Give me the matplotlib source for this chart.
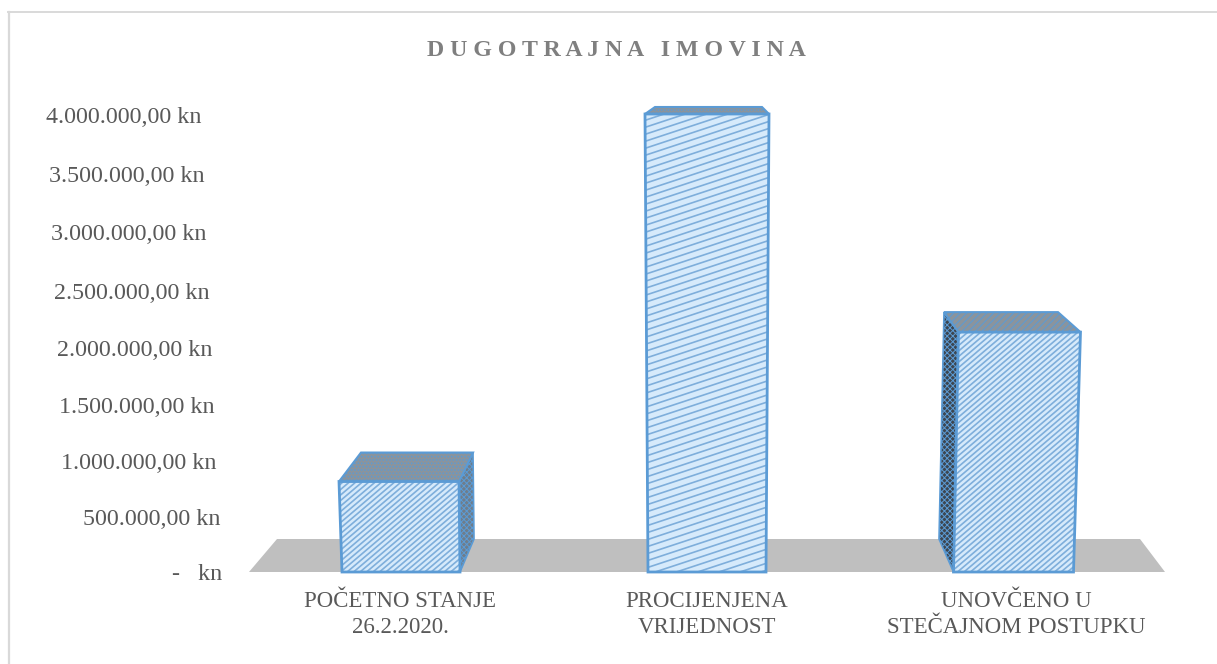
import matplotlib
matplotlib.use('Agg')
import matplotlib.pyplot as plt
from matplotlib.collections import LineCollection
from matplotlib.patches import Polygon
from matplotlib.transforms import Affine2D

W, H = 1217, 664

categories = ['POČETNO STANJE\n26.2.2020.', 'PROCIJENJENA\nVRIJEDNOST', 'UNOVČENO U\nSTEČAJNOM POSTUPKU']
values = [790000, 4000000, 2095000]
ytick_values = [0, 500000, 1000000, 1500000, 2000000, 2500000, 3000000, 3500000, 4000000]
ytick_labels = ['-   kn', '500.000,00 kn', '1.000.000,00 kn', '1.500.000,00 kn', '2.000.000,00 kn',
                '2.500.000,00 kn', '3.000.000,00 kn', '3.500.000,00 kn', '4.000.000,00 kn']
title = 'DUGOTRAJNA IMOVINA'

# nagib natpisa po y osi, u pikselima
label_shift = [0, -1, -5, -7, -9, -12, -15, -17, -20]
label_drop = [0, 2, 3, 5, 5, 5, 3, 3, 1]

# perspektiva stupaca, u pikselima
centers_px = [400, 707, 1016]
half_top = [60, 62, 61]
half_bottom = [59, 59, 60]
skew_top = [-1, 0, 3.5]
skew_bottom = [1, 0, -2.5]
back_top_l = [361, 655, 944]
back_top_r = [473, 762, 1058]
back_dy = [29, 7, 20]
hatch_slope = [0.85, 0.33, 0.85]
hatch_step = [5.5, 7, 5.5]
side_colors = ['#6f7d8b', '#6f7d8b', '#3d4650']

PX_Y = 458 / 4000000
Y0 = 572
AX_L, AX_R, AX_T = 240, 1175, 100

plt.rcParams['font.family'] = ['Liberation Serif', 'DejaVu Serif']
plt.rcParams['hatch.linewidth'] = 0.7

fig = plt.figure(figsize=(W / 100, H / 100), dpi=100)
fig.patch.set_facecolor('white')

# okvir grafikona, vidi se samo gore i lijevo
fig.add_artist(plt.Line2D([8.5 / W, 8.5 / W], [0, 1 - 12 / H], color='#d9d9d9', lw=1.6,
                          transform=fig.transFigure))
fig.add_artist(plt.Line2D([8 / W, 1], [1 - 12 / H, 1 - 12 / H], color='#d9d9d9', lw=1.4,
                          transform=fig.transFigure))

ax = fig.add_axes([AX_L / W, 1 - Y0 / H, (AX_R - AX_L) / W, (Y0 - AX_T) / H])
ax.set_xlim(AX_L, AX_R)
ax.set_ylim(0, (Y0 - AX_T) / PX_Y)
ax.patch.set_alpha(0)
for s in ax.spines.values():
    s.set_visible(False)

# pod
ax.add_patch(Polygon([(249, 0), (277, 33 / PX_Y), (1140, 33 / PX_Y), (1165, 0)], fc='#bfbfbf', ec='none',
                     zorder=1, clip_on=False))

for i, v in enumerate(values):
    c = centers_px[i]
    top_y = v
    back_y = v + back_dy[i] / PX_Y
    fl = c - half_top[i] + skew_top[i]
    fr = c + half_top[i] + skew_top[i]
    bl = c - half_bottom[i] + skew_bottom[i]
    br = c + half_bottom[i] + skew_bottom[i]
    floor_y = 33 / PX_Y

    # bocna strana
    if i == 0:
        side = [(fr, top_y), (back_top_r[i], back_y), (back_top_r[i] + 1, floor_y), (br, 0)]
    elif i == 2:
        side = [(fl, top_y), (back_top_l[i], back_y), (back_top_l[i] - 5, floor_y), (bl, 0)]
    else:
        side = None
    if side:
        ax.add_patch(Polygon(side, fc=side_colors[i], ec='#5b9bd5', lw=1.2, hatch='xxxxxx', zorder=3,
                             clip_on=False))

    # gornja strana
    top = [(fl, top_y), (back_top_l[i], back_y), (back_top_r[i], back_y), (fr, top_y)]
    ax.add_patch(Polygon(top, fc='#8a949d', ec='#5b9bd5', lw=1.5, hatch='.....' if i != 2 else '/////',
                         zorder=3, clip_on=False))

    # prednja strana
    front = Polygon([(bl, 0), (fl, top_y), (fr, top_y), (br, 0)], fc='#d6eafb', ec='none', zorder=4, clip_on=False)
    ax.add_patch(front)
    segs = []
    height_px = v * PX_Y
    x = bl - height_px / hatch_slope[i] - 5
    while x < fr + 5:
        segs.append([(x, 0), (x + height_px / hatch_slope[i], v)])
        x += hatch_step[i] / hatch_slope[i]
    lc = LineCollection(segs, colors='#7eaedb', linewidths=1.2, zorder=5)
    ax.add_collection(lc)
    lc.set_clip_path(front)
    ax.add_patch(Polygon([(bl, 0), (fl, top_y), (fr, top_y), (br, 0)], fill=False, ec='#5b9bd5', lw=2,
                         zorder=6, clip_on=False, joinstyle='miter'))

ax.set_yticks(ytick_values)
ax.set_yticklabels(ytick_labels, fontsize=17.3, color='#595959')
ax.tick_params(axis='y', length=0, pad=13)
for lbl, dx, dy in zip(ax.get_yticklabels(), label_shift, label_drop):
    lbl.set_transform(lbl.get_transform() + Affine2D().translate(dx, -dy))

ax.set_xticks(centers_px)
ax.set_xticklabels(categories, fontsize=16.5, color='#595959', linespacing=1.33)
ax.tick_params(axis='x', length=0, pad=13.5)

# naslov s razmakom medu slovima
fig.text(616.5 / W, 1 - 51 / H, ' '.join(title), ha='center', va='center',
         fontsize=17.2, fontweight='bold', color='#7f7f7f')

fig.savefig('out.png', dpi=100)
